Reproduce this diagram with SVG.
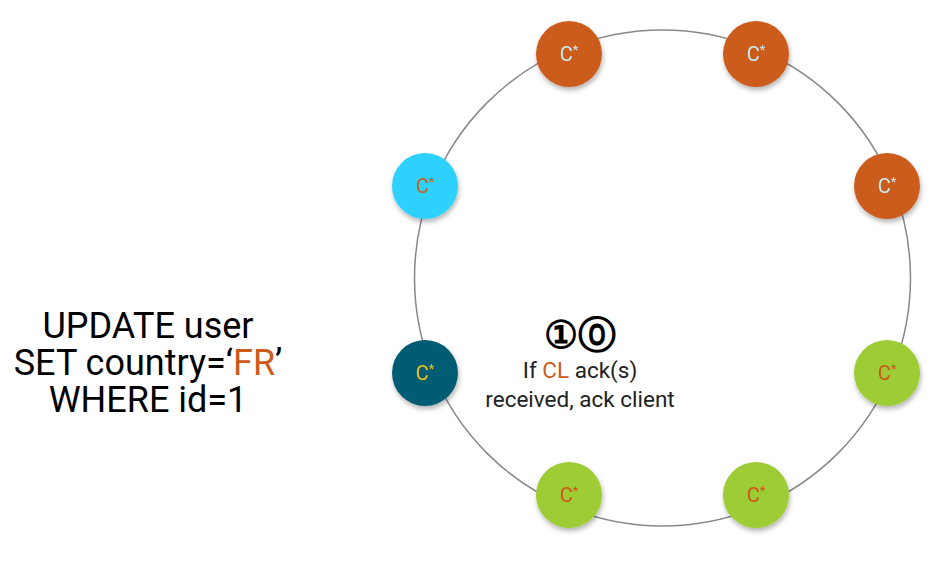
<svg xmlns="http://www.w3.org/2000/svg" width="945" height="575" viewBox="0 0 945 575">
<defs>
<filter id="sh" x="-30%" y="-30%" width="160%" height="160%">
<feDropShadow dx="1" dy="3" stdDeviation="2.5" flood-color="#000" flood-opacity="0.3"/>
</filter>
<style>
.n{filter:url(#sh)}
.lbl{font-family:Roboto,"Liberation Sans",sans-serif;font-size:20px;text-anchor:middle}
.sup{font-size:13px}
.or{fill:#CB5B1B}
.cy{fill:#2ED1FB}
.tl{fill:#015C72}
.gr{fill:#9DCC35}
.big{font-family:Roboto,"Liberation Sans",sans-serif;font-size:36px;fill:#000;text-anchor:middle}
.mid{font-family:Roboto,"Liberation Sans",sans-serif;font-size:22.5px;fill:#222;text-anchor:middle}
</style>
</defs>
<rect width="945" height="575" fill="#fff"/>
<g id="ring">
<circle cx="662.5" cy="278" r="248" fill="none" stroke="#888" stroke-width="1.5"/>
</g>
<g id="node1" class="n"><circle cx="569" cy="54" r="33" class="or"/><text x="569" y="61" class="lbl" fill="#C6EEF3">C<tspan class="sup" dy="-7">*</tspan></text></g>
<g id="node2" class="n"><circle cx="756" cy="54" r="33" class="or"/><text x="756" y="61" class="lbl" fill="#C6EEF3">C<tspan class="sup" dy="-7">*</tspan></text></g>
<g id="node3" class="n"><circle cx="887" cy="186" r="33" class="or"/><text x="887" y="193" class="lbl" fill="#C6EEF3">C<tspan class="sup" dy="-7">*</tspan></text></g>
<g id="node4" class="n"><circle cx="887" cy="373" r="33" class="gr"/><text x="887" y="380" class="lbl" fill="#D4521B">C<tspan class="sup" dy="-7">*</tspan></text></g>
<g id="node5" class="n"><circle cx="756" cy="495" r="33" class="gr"/><text x="756" y="502" class="lbl" fill="#D4521B">C<tspan class="sup" dy="-7">*</tspan></text></g>
<g id="node6" class="n"><circle cx="569" cy="495" r="33" class="gr"/><text x="569" y="502" class="lbl" fill="#D4521B">C<tspan class="sup" dy="-7">*</tspan></text></g>
<g id="node7" class="n"><circle cx="425" cy="373" r="33" class="tl"/><text x="425" y="380" class="lbl" fill="#F3C318">C<tspan class="sup" dy="-7">*</tspan></text></g>
<g id="node8" class="n"><circle cx="425" cy="186" r="33" class="cy"/><text x="425" y="193" class="lbl" fill="#CB5B1B">C<tspan class="sup" dy="-7">*</tspan></text></g>
<g id="query">
<text x="148" y="338" class="big">UPDATE user</text>
<text x="148" y="375" class="big">SET country=‘<tspan fill="#CB5B1B">FR</tspan>’</text>
<text x="148" y="412" class="big">WHERE id=1</text>
</g>
<g id="step">
<text x="580" y="348" class="big" style="font-size:38px;font-weight:bold">①⓪</text>
<text x="580" y="378" class="mid">If <tspan fill="#CB5B1B">CL</tspan> ack(s)</text>
<text x="580" y="407" class="mid">received, ack client</text>
</g>
</svg>
